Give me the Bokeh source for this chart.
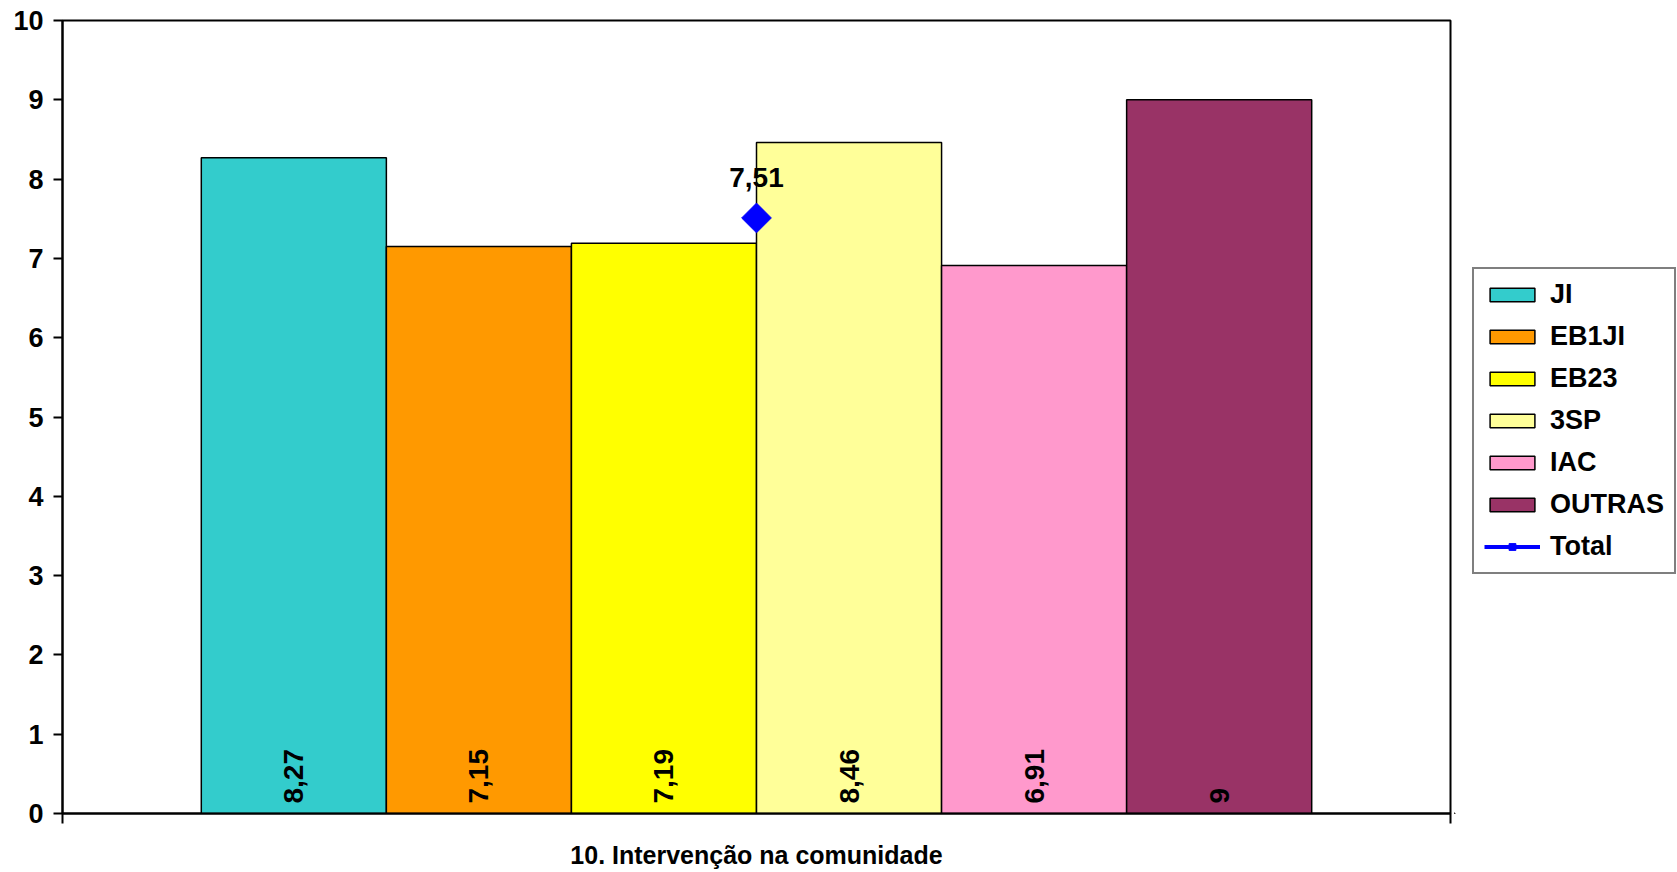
import math
from bokeh.plotting import figure
from bokeh.layouts import row
from bokeh.models import (ColumnDataSource, Range1d, FixedTicker, Legend, LegendItem,
                          CDSView, IndexFilter)
from bokeh.core.properties import value
from bokeh.embed import file_html
from bokeh.resources import INLINE

categories = ["JI", "EB1JI", "EB23", "3SP", "IAC", "OUTRAS"]
values = [8.27, 7.15, 7.19, 8.46, 6.91, 9.0]
labels = ["8,27", "7,15", "7,19", "8,46", "6,91", "9"]
colors = ["#33CCCC", "#FF9900", "#FFFF00", "#FFFF99", "#FF99CC", "#993366"]
total_value = 7.51
total_label = "7,51"
group_title = "10. Intervenção na comunidade"
y_ticks = [0, 1, 2, 3, 4, 5, 6, 7, 8, 9, 10]

FONT = "Liberation Sans"

n = len(categories)
group_width = 0.8
bw = group_width / n
xs = [0.5 + (i - (n - 1) / 2) * bw for i in range(n)]

src = ColumnDataSource(dict(x=xs, top=values, color=colors, cat=categories, lab=labels, zero=[0] * n))
tot_src = ColumnDataSource(dict(x=[0.5], y=[total_value], lab=[total_label]))

H = 872
p = figure(width=1454, height=H, x_range=Range1d(0, 1), y_range=Range1d(0, 10),
           output_backend="svg", toolbar_location=None,
           min_border_left=62, min_border_top=20, min_border_right=4, min_border_bottom=59)
p.xgrid.visible = False
p.ygrid.visible = False
p.outline_line_color = "black"
p.outline_line_width = 2
p.background_fill_color = "white"
p.border_fill_color = "white"

p.vbar(x="x", top="top", bottom=0, width=bw, fill_color="color", source=src,
       line_color="black", line_width=1.5)

p.text(x="x", y="zero", text="lab", source=src, angle=math.pi / 2,
       text_align="left", text_baseline="middle", y_offset=-10,
       text_font=value(FONT), text_font_style="bold", text_font_size="28px", text_color="black")

p.scatter(x="x", y="y", source=tot_src, marker="square", angle=math.pi / 4, size=21,
          fill_color="#0000FF", line_color="#0000FF")
p.text(x="x", y="y", text="lab", source=tot_src, text_align="center", text_baseline="bottom",
       y_offset=-31, text_font=value(FONT), text_font_style="bold", text_font_size="28px",
       text_color="black")

# axes
p.yaxis.ticker = FixedTicker(ticks=y_ticks)
p.yaxis.minor_tick_line_color = None
p.yaxis.major_tick_in = 0
p.yaxis.major_tick_out = 9
p.yaxis.axis_line_width = 2
p.yaxis.major_tick_line_width = 2
p.yaxis.major_label_text_font = FONT
p.yaxis.major_label_text_font_style = "bold"
p.yaxis.major_label_text_font_size = "27px"
p.yaxis.major_label_text_color = "black"
p.yaxis.major_label_standoff = 10

p.xaxis.ticker = FixedTicker(ticks=[0, 1])
p.xaxis.minor_tick_line_color = None
p.xaxis.major_tick_in = 0
p.xaxis.major_tick_out = 10
p.xaxis.axis_line_width = 2
p.xaxis.major_tick_line_width = 2
p.xaxis.major_label_overrides = {0: "", 1: ""}
p.xaxis.major_label_text_font_size = "10px"
p.xaxis.axis_label = group_title
p.xaxis.axis_label_text_font = FONT
p.xaxis.axis_label_text_font_style = "bold"
p.xaxis.axis_label_text_font_size = "25px"
p.xaxis.axis_label_text_color = "black"
p.xaxis.axis_label_standoff = 17

# legend panel: same data, placed outside its visible ranges so only the legend keys show
lp = figure(width=1677 - 1454, height=H, x_range=Range1d(10, 11), y_range=Range1d(50, 60),
            output_backend="svg", toolbar_location=None,
            min_border_left=0, min_border_right=0, min_border_top=0, min_border_bottom=0)
lp.axis.visible = False
lp.grid.visible = False
lp.outline_line_color = None
lp.background_fill_color = "white"
lp.border_fill_color = "white"

items = []
for i in range(n):
    r = lp.vbar(x="x", top="top", bottom=0, width=bw, fill_color="color", source=src,
                view=CDSView(filter=IndexFilter([i])), line_color="black", line_width=1.5)
    items.append(LegendItem(label=categories[i], renderers=[r], index=i))
tl = lp.line(x="x", y="y", source=tot_src, line_color="#0000FF", line_width=4)
tm = lp.scatter(x="x", y="y", source=tot_src, marker="square", angle=math.pi / 4, size=14,
                fill_color="#0000FF", line_color="#0000FF")
items.append(LegendItem(label="Total", renderers=[tl, tm]))

legend = Legend(items=items, location=(18, 239))
legend.border_line_color = "black"
legend.border_line_width = 2
legend.background_fill_color = "white"
legend.background_fill_alpha = 1
legend.label_text_font = FONT
legend.label_text_font_style = "bold"
legend.label_text_font_size = "27px"
legend.label_text_color = "black"
legend.glyph_width = 56
legend.glyph_height = 17
legend.label_height = 24
legend.label_standoff = 10
legend.spacing = 11
legend.padding = 10
legend.margin = 0
lp.add_layout(legend, "center")

layout = row(p, lp, spacing=0)
open("out.html", "w").write(file_html(layout, INLINE))
